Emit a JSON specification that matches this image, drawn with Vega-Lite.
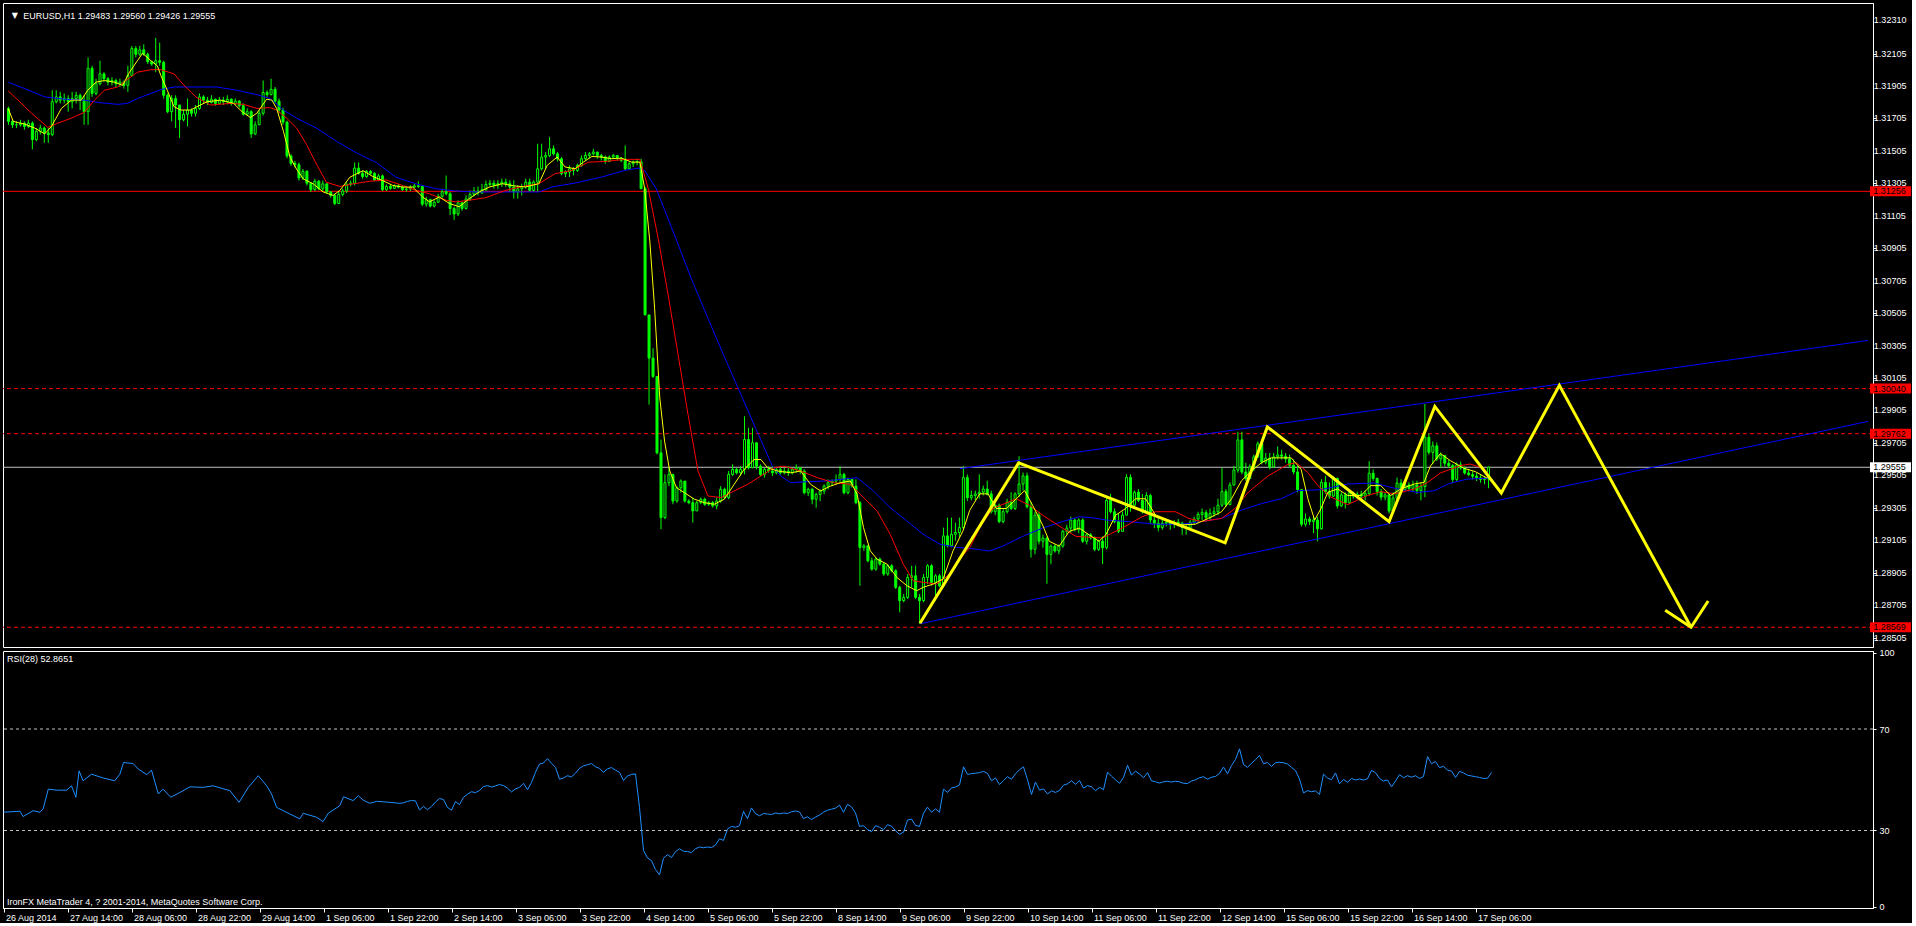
{
"$schema": "https://vega.github.io/schema/vega-lite/v6.json",
"background": "#000000",
"padding": {"left": 2, "top": 2, "right": 0, "bottom": 0},
"autosize": {"type": "pad"},
"spacing": 0,
"config": {
 "view": {"stroke": "#FFFFFF", "strokeWidth": 1},
 "font": "Liberation Sans",
 "axis": {"domainColor": "#FFFFFF", "tickColor": "#FFFFFF", "labelColor": "#FFFFFF", "labelFont": "Liberation Sans", "labelFontSize": 9, "grid": false, "labelOverlap": false, "labelBound": false, "labelFlush": false}
},
"datasets": {
 "one": [{}],
 "yticks": [{"v":1.28505},{"v":1.28705},{"v":1.28905},{"v":1.29105},{"v":1.29305},{"v":1.29505},{"v":1.29705},{"v":1.29905},{"v":1.30105},{"v":1.30305},{"v":1.30505},{"v":1.30705},{"v":1.30905},{"v":1.31105},{"v":1.31305},{"v":1.31505},{"v":1.31705},{"v":1.31905},{"v":1.32105},{"v":1.32310}],
 "candles": [
{"b":0,"o":1.31767,"h":1.31778,"l":1.31666,"c":1.31687},
{"b":1,"o":1.31687,"h":1.31697,"l":1.31646,"c":1.31666},
{"b":2,"o":1.31666,"h":1.31687,"l":1.31646,"c":1.31666},
{"b":3,"o":1.31666,"h":1.31697,"l":1.31656,"c":1.31676},
{"b":4,"o":1.31676,"h":1.31687,"l":1.31636,"c":1.31656},
{"b":5,"o":1.31656,"h":1.31697,"l":1.31646,"c":1.31676},
{"b":6,"o":1.31676,"h":1.31687,"l":1.31515,"c":1.31575},
{"b":7,"o":1.31575,"h":1.31646,"l":1.31565,"c":1.31626},
{"b":8,"o":1.31626,"h":1.31666,"l":1.31606,"c":1.31646},
{"b":9,"o":1.31646,"h":1.31656,"l":1.31555,"c":1.31616},
{"b":10,"o":1.31616,"h":1.31646,"l":1.31555,"c":1.31606},
{"b":11,"o":1.31606,"h":1.31879,"l":1.31596,"c":1.31808},
{"b":12,"o":1.31808,"h":1.31879,"l":1.31798,"c":1.31838},
{"b":13,"o":1.31838,"h":1.31869,"l":1.31798,"c":1.31818},
{"b":14,"o":1.31818,"h":1.31859,"l":1.31798,"c":1.31828},
{"b":15,"o":1.31828,"h":1.31848,"l":1.31747,"c":1.31808},
{"b":16,"o":1.31808,"h":1.31869,"l":1.31767,"c":1.31828},
{"b":17,"o":1.31828,"h":1.31869,"l":1.31798,"c":1.31848},
{"b":18,"o":1.31848,"h":1.31859,"l":1.31757,"c":1.31818},
{"b":19,"o":1.31818,"h":1.31848,"l":1.31666,"c":1.31747},
{"b":20,"o":1.31747,"h":1.32081,"l":1.31666,"c":1.32014},
{"b":21,"o":1.32014,"h":1.32030,"l":1.31838,"c":1.31859},
{"b":22,"o":1.31859,"h":1.31950,"l":1.31848,"c":1.31919},
{"b":23,"o":1.31919,"h":1.32061,"l":1.31909,"c":1.31980},
{"b":24,"o":1.31980,"h":1.31990,"l":1.31929,"c":1.31950},
{"b":25,"o":1.31950,"h":1.31960,"l":1.31909,"c":1.31929},
{"b":26,"o":1.31929,"h":1.31960,"l":1.31909,"c":1.31939},
{"b":27,"o":1.31939,"h":1.31950,"l":1.31899,"c":1.31919},
{"b":28,"o":1.31919,"h":1.31950,"l":1.31899,"c":1.31929},
{"b":29,"o":1.31929,"h":1.31939,"l":1.31889,"c":1.31909},
{"b":30,"o":1.31909,"h":1.32030,"l":1.31869,"c":1.31970},
{"b":31,"o":1.31970,"h":1.32152,"l":1.31960,"c":1.32136},
{"b":32,"o":1.32136,"h":1.32152,"l":1.32081,"c":1.32101},
{"b":33,"o":1.32101,"h":1.32152,"l":1.32091,"c":1.32128},
{"b":34,"o":1.32128,"h":1.32162,"l":1.32091,"c":1.32101},
{"b":35,"o":1.32101,"h":1.32111,"l":1.32041,"c":1.32055},
{"b":36,"o":1.32055,"h":1.32061,"l":1.32030,"c":1.32041},
{"b":37,"o":1.32041,"h":1.32202,"l":1.31990,"c":1.32061},
{"b":38,"o":1.32061,"h":1.32172,"l":1.32030,"c":1.32051},
{"b":39,"o":1.32051,"h":1.32061,"l":1.31828,"c":1.31848},
{"b":40,"o":1.31848,"h":1.31859,"l":1.31737,"c":1.31747},
{"b":41,"o":1.31747,"h":1.31848,"l":1.31687,"c":1.31828},
{"b":42,"o":1.31828,"h":1.31848,"l":1.31646,"c":1.31788},
{"b":43,"o":1.31788,"h":1.31788,"l":1.31585,"c":1.31697},
{"b":44,"o":1.31697,"h":1.31757,"l":1.31687,"c":1.31731},
{"b":45,"o":1.31731,"h":1.31828,"l":1.31656,"c":1.31757},
{"b":46,"o":1.31757,"h":1.31767,"l":1.31717,"c":1.31737},
{"b":47,"o":1.31737,"h":1.31788,"l":1.31717,"c":1.31767},
{"b":48,"o":1.31767,"h":1.31859,"l":1.31757,"c":1.31838},
{"b":49,"o":1.31838,"h":1.31848,"l":1.31798,"c":1.31818},
{"b":50,"o":1.31818,"h":1.31838,"l":1.31788,"c":1.31804},
{"b":51,"o":1.31804,"h":1.31848,"l":1.31798,"c":1.31824},
{"b":52,"o":1.31824,"h":1.31828,"l":1.31784,"c":1.31798},
{"b":53,"o":1.31798,"h":1.31838,"l":1.31792,"c":1.31818},
{"b":54,"o":1.31818,"h":1.31838,"l":1.31788,"c":1.31808},
{"b":55,"o":1.31808,"h":1.31848,"l":1.31792,"c":1.31824},
{"b":56,"o":1.31824,"h":1.31828,"l":1.31784,"c":1.31798},
{"b":57,"o":1.31798,"h":1.31828,"l":1.31788,"c":1.31812},
{"b":58,"o":1.31812,"h":1.31818,"l":1.31772,"c":1.31784},
{"b":59,"o":1.31784,"h":1.31798,"l":1.31723,"c":1.31731},
{"b":60,"o":1.31731,"h":1.31767,"l":1.31723,"c":1.31747},
{"b":61,"o":1.31747,"h":1.31757,"l":1.31585,"c":1.31610},
{"b":62,"o":1.31610,"h":1.31687,"l":1.31602,"c":1.31666},
{"b":63,"o":1.31666,"h":1.31757,"l":1.31666,"c":1.31737},
{"b":64,"o":1.31737,"h":1.31939,"l":1.31723,"c":1.31865},
{"b":65,"o":1.31865,"h":1.31879,"l":1.31838,"c":1.31852},
{"b":66,"o":1.31852,"h":1.31950,"l":1.31848,"c":1.31885},
{"b":67,"o":1.31885,"h":1.31899,"l":1.31798,"c":1.31812},
{"b":68,"o":1.31812,"h":1.31828,"l":1.31737,"c":1.31757},
{"b":69,"o":1.31757,"h":1.31772,"l":1.31666,"c":1.31683},
{"b":70,"o":1.31683,"h":1.31691,"l":1.31460,"c":1.31474},
{"b":71,"o":1.31474,"h":1.31484,"l":1.31413,"c":1.31428},
{"b":72,"o":1.31428,"h":1.31444,"l":1.31403,"c":1.31420},
{"b":73,"o":1.31420,"h":1.31434,"l":1.31322,"c":1.31339},
{"b":74,"o":1.31339,"h":1.31393,"l":1.31326,"c":1.31379},
{"b":75,"o":1.31379,"h":1.31387,"l":1.31292,"c":1.31306},
{"b":76,"o":1.31306,"h":1.31312,"l":1.31252,"c":1.31266},
{"b":77,"o":1.31266,"h":1.31333,"l":1.31258,"c":1.31318},
{"b":78,"o":1.31318,"h":1.31326,"l":1.31262,"c":1.31272},
{"b":79,"o":1.31272,"h":1.31322,"l":1.31258,"c":1.31302},
{"b":80,"o":1.31302,"h":1.31306,"l":1.31241,"c":1.31252},
{"b":81,"o":1.31252,"h":1.31258,"l":1.31217,"c":1.31231},
{"b":82,"o":1.31231,"h":1.31241,"l":1.31171,"c":1.31181},
{"b":83,"o":1.31181,"h":1.31252,"l":1.31177,"c":1.31237},
{"b":84,"o":1.31237,"h":1.31272,"l":1.31225,"c":1.31258},
{"b":85,"o":1.31258,"h":1.31312,"l":1.31246,"c":1.31298},
{"b":86,"o":1.31298,"h":1.31322,"l":1.31286,"c":1.31306},
{"b":87,"o":1.31306,"h":1.31434,"l":1.31292,"c":1.31399},
{"b":88,"o":1.31399,"h":1.31434,"l":1.31359,"c":1.31367},
{"b":89,"o":1.31367,"h":1.31383,"l":1.31333,"c":1.31347},
{"b":90,"o":1.31347,"h":1.31387,"l":1.31339,"c":1.31379},
{"b":91,"o":1.31379,"h":1.31387,"l":1.31359,"c":1.31367},
{"b":92,"o":1.31367,"h":1.31373,"l":1.31318,"c":1.31326},
{"b":93,"o":1.31326,"h":1.31363,"l":1.31318,"c":1.31351},
{"b":94,"o":1.31351,"h":1.31359,"l":1.31258,"c":1.31266},
{"b":95,"o":1.31266,"h":1.31298,"l":1.31258,"c":1.31286},
{"b":96,"o":1.31286,"h":1.31298,"l":1.31266,"c":1.31274},
{"b":97,"o":1.31274,"h":1.31298,"l":1.31270,"c":1.31290},
{"b":98,"o":1.31290,"h":1.31302,"l":1.31274,"c":1.31282},
{"b":99,"o":1.31282,"h":1.31290,"l":1.31258,"c":1.31266},
{"b":100,"o":1.31266,"h":1.31282,"l":1.31254,"c":1.31270},
{"b":101,"o":1.31270,"h":1.31294,"l":1.31258,"c":1.31282},
{"b":102,"o":1.31282,"h":1.31302,"l":1.31278,"c":1.31290},
{"b":103,"o":1.31290,"h":1.31318,"l":1.31278,"c":1.31286},
{"b":104,"o":1.31286,"h":1.31294,"l":1.31165,"c":1.31177},
{"b":105,"o":1.31177,"h":1.31221,"l":1.31161,"c":1.31205},
{"b":106,"o":1.31205,"h":1.31211,"l":1.31157,"c":1.31165},
{"b":107,"o":1.31165,"h":1.31201,"l":1.31157,"c":1.31189},
{"b":108,"o":1.31189,"h":1.31241,"l":1.31185,"c":1.31225},
{"b":109,"o":1.31225,"h":1.31272,"l":1.31217,"c":1.31254},
{"b":110,"o":1.31254,"h":1.31353,"l":1.31231,"c":1.31241},
{"b":111,"o":1.31241,"h":1.31252,"l":1.31110,"c":1.31150},
{"b":112,"o":1.31150,"h":1.31161,"l":1.31080,"c":1.31116},
{"b":113,"o":1.31116,"h":1.31201,"l":1.31104,"c":1.31185},
{"b":114,"o":1.31185,"h":1.31191,"l":1.31136,"c":1.31150},
{"b":115,"o":1.31150,"h":1.31231,"l":1.31144,"c":1.31209},
{"b":116,"o":1.31209,"h":1.31262,"l":1.31197,"c":1.31237},
{"b":117,"o":1.31237,"h":1.31282,"l":1.31225,"c":1.31258},
{"b":118,"o":1.31258,"h":1.31286,"l":1.31231,"c":1.31246},
{"b":119,"o":1.31246,"h":1.31302,"l":1.31241,"c":1.31266},
{"b":120,"o":1.31266,"h":1.31322,"l":1.31258,"c":1.31298},
{"b":121,"o":1.31298,"h":1.31326,"l":1.31286,"c":1.31306},
{"b":122,"o":1.31306,"h":1.31324,"l":1.31272,"c":1.31293},
{"b":123,"o":1.31293,"h":1.31324,"l":1.31272,"c":1.31303},
{"b":124,"o":1.31303,"h":1.31334,"l":1.31283,"c":1.31313},
{"b":125,"o":1.31313,"h":1.31334,"l":1.31283,"c":1.31303},
{"b":126,"o":1.31303,"h":1.31324,"l":1.31252,"c":1.31283},
{"b":127,"o":1.31283,"h":1.31324,"l":1.31211,"c":1.31252},
{"b":128,"o":1.31252,"h":1.31293,"l":1.31211,"c":1.31272},
{"b":129,"o":1.31272,"h":1.31303,"l":1.31231,"c":1.31283},
{"b":130,"o":1.31283,"h":1.31334,"l":1.31272,"c":1.31313},
{"b":131,"o":1.31313,"h":1.31334,"l":1.31252,"c":1.31262},
{"b":132,"o":1.31262,"h":1.31324,"l":1.31252,"c":1.31313},
{"b":133,"o":1.31313,"h":1.31549,"l":1.31252,"c":1.31395},
{"b":134,"o":1.31395,"h":1.31549,"l":1.31385,"c":1.31467},
{"b":135,"o":1.31467,"h":1.31498,"l":1.31395,"c":1.31477},
{"b":136,"o":1.31477,"h":1.31590,"l":1.31467,"c":1.31518},
{"b":137,"o":1.31518,"h":1.31539,"l":1.31477,"c":1.31487},
{"b":138,"o":1.31487,"h":1.31498,"l":1.31440,"c":1.31457},
{"b":139,"o":1.31457,"h":1.31467,"l":1.31354,"c":1.31365},
{"b":140,"o":1.31365,"h":1.31385,"l":1.31344,"c":1.31375},
{"b":141,"o":1.31375,"h":1.31416,"l":1.31344,"c":1.31395},
{"b":142,"o":1.31395,"h":1.31406,"l":1.31354,"c":1.31385},
{"b":143,"o":1.31385,"h":1.31426,"l":1.31375,"c":1.31416},
{"b":144,"o":1.31416,"h":1.31477,"l":1.31406,"c":1.31457},
{"b":145,"o":1.31457,"h":1.31498,"l":1.31446,"c":1.31477},
{"b":146,"o":1.31477,"h":1.31498,"l":1.31461,"c":1.31487},
{"b":147,"o":1.31487,"h":1.31518,"l":1.31477,"c":1.31498},
{"b":148,"o":1.31498,"h":1.31498,"l":1.31457,"c":1.31477},
{"b":149,"o":1.31477,"h":1.31487,"l":1.31446,"c":1.31467},
{"b":150,"o":1.31467,"h":1.31477,"l":1.31426,"c":1.31440},
{"b":151,"o":1.31440,"h":1.31477,"l":1.31436,"c":1.31467},
{"b":152,"o":1.31467,"h":1.31487,"l":1.31457,"c":1.31477},
{"b":153,"o":1.31477,"h":1.31477,"l":1.31446,"c":1.31461},
{"b":154,"o":1.31461,"h":1.31467,"l":1.31436,"c":1.31446},
{"b":155,"o":1.31446,"h":1.31539,"l":1.31385,"c":1.31395},
{"b":156,"o":1.31395,"h":1.31436,"l":1.31395,"c":1.31426},
{"b":157,"o":1.31426,"h":1.31446,"l":1.31406,"c":1.31436},
{"b":158,"o":1.31436,"h":1.31457,"l":1.31416,"c":1.31440},
{"b":159,"o":1.31440,"h":1.31457,"l":1.31272,"c":1.31272},
{"b":160,"o":1.31272,"h":1.31283,"l":1.30494,"c":1.30494},
{"b":161,"o":1.30494,"h":1.30494,"l":1.29941,"c":1.30228},
{"b":162,"o":1.30228,"h":1.30289,"l":1.30105,"c":1.30115},
{"b":163,"o":1.30115,"h":1.30115,"l":1.29634,"c":1.29644},
{"b":164,"o":1.29644,"h":1.29726,"l":1.29173,"c":1.29245},
{"b":165,"o":1.29245,"h":1.29511,"l":1.29235,"c":1.29460},
{"b":166,"o":1.29460,"h":1.29552,"l":1.29439,"c":1.29511},
{"b":167,"o":1.29511,"h":1.29511,"l":1.29327,"c":1.29347},
{"b":168,"o":1.29347,"h":1.29439,"l":1.29337,"c":1.29429},
{"b":169,"o":1.29429,"h":1.29480,"l":1.29398,"c":1.29470},
{"b":170,"o":1.29470,"h":1.29470,"l":1.29337,"c":1.29347},
{"b":171,"o":1.29347,"h":1.29358,"l":1.29327,"c":1.29337},
{"b":172,"o":1.29337,"h":1.29368,"l":1.29214,"c":1.29286},
{"b":173,"o":1.29286,"h":1.29347,"l":1.29286,"c":1.29337},
{"b":174,"o":1.29337,"h":1.29368,"l":1.29327,"c":1.29358},
{"b":175,"o":1.29358,"h":1.29368,"l":1.29317,"c":1.29327},
{"b":176,"o":1.29327,"h":1.29347,"l":1.29317,"c":1.29337},
{"b":177,"o":1.29337,"h":1.29347,"l":1.29306,"c":1.29317},
{"b":178,"o":1.29317,"h":1.29368,"l":1.29296,"c":1.29347},
{"b":179,"o":1.29347,"h":1.29439,"l":1.29337,"c":1.29419},
{"b":180,"o":1.29419,"h":1.29429,"l":1.29358,"c":1.29368},
{"b":181,"o":1.29368,"h":1.29532,"l":1.29358,"c":1.29511},
{"b":182,"o":1.29511,"h":1.29573,"l":1.29501,"c":1.29542},
{"b":183,"o":1.29542,"h":1.29552,"l":1.29511,"c":1.29521},
{"b":184,"o":1.29521,"h":1.29562,"l":1.29501,"c":1.29542},
{"b":185,"o":1.29542,"h":1.29870,"l":1.29511,"c":1.29726},
{"b":186,"o":1.29726,"h":1.29798,"l":1.29542,"c":1.29552},
{"b":187,"o":1.29552,"h":1.29798,"l":1.29552,"c":1.29706},
{"b":188,"o":1.29706,"h":1.29706,"l":1.29542,"c":1.29562},
{"b":189,"o":1.29562,"h":1.29573,"l":1.29501,"c":1.29511},
{"b":190,"o":1.29511,"h":1.29552,"l":1.29491,"c":1.29542},
{"b":191,"o":1.29542,"h":1.29562,"l":1.29521,"c":1.29532},
{"b":192,"o":1.29532,"h":1.29562,"l":1.29501,"c":1.29521},
{"b":193,"o":1.29521,"h":1.29552,"l":1.29511,"c":1.29542},
{"b":194,"o":1.29542,"h":1.29562,"l":1.29511,"c":1.29521},
{"b":195,"o":1.29521,"h":1.29552,"l":1.29511,"c":1.29532},
{"b":196,"o":1.29532,"h":1.29562,"l":1.29501,"c":1.29521},
{"b":197,"o":1.29521,"h":1.29552,"l":1.29511,"c":1.29542},
{"b":198,"o":1.29542,"h":1.29573,"l":1.29521,"c":1.29552},
{"b":199,"o":1.29552,"h":1.29552,"l":1.29511,"c":1.29532},
{"b":200,"o":1.29532,"h":1.29542,"l":1.29388,"c":1.29398},
{"b":201,"o":1.29398,"h":1.29429,"l":1.29378,"c":1.29419},
{"b":202,"o":1.29419,"h":1.29429,"l":1.29327,"c":1.29358},
{"b":203,"o":1.29358,"h":1.29398,"l":1.29306,"c":1.29388},
{"b":204,"o":1.29388,"h":1.29419,"l":1.29347,"c":1.29409},
{"b":205,"o":1.29409,"h":1.29450,"l":1.29388,"c":1.29439},
{"b":206,"o":1.29439,"h":1.29480,"l":1.29419,"c":1.29460},
{"b":207,"o":1.29460,"h":1.29480,"l":1.29439,"c":1.29470},
{"b":208,"o":1.29470,"h":1.29511,"l":1.29450,"c":1.29480},
{"b":209,"o":1.29480,"h":1.29562,"l":1.29460,"c":1.29511},
{"b":210,"o":1.29511,"h":1.29521,"l":1.29388,"c":1.29398},
{"b":211,"o":1.29398,"h":1.29491,"l":1.29388,"c":1.29480},
{"b":212,"o":1.29480,"h":1.29480,"l":1.29429,"c":1.29439},
{"b":213,"o":1.29439,"h":1.29480,"l":1.29327,"c":1.29337},
{"b":214,"o":1.29337,"h":1.29347,"l":1.28825,"c":1.29061},
{"b":215,"o":1.29061,"h":1.29081,"l":1.29040,"c":1.29071},
{"b":216,"o":1.29071,"h":1.29071,"l":1.28969,"c":1.28979},
{"b":217,"o":1.28979,"h":1.28999,"l":1.28917,"c":1.28927},
{"b":218,"o":1.28927,"h":1.28999,"l":1.28917,"c":1.28989},
{"b":219,"o":1.28989,"h":1.28999,"l":1.28948,"c":1.28958},
{"b":220,"o":1.28958,"h":1.28969,"l":1.28886,"c":1.28897},
{"b":221,"o":1.28897,"h":1.28958,"l":1.28886,"c":1.28948},
{"b":222,"o":1.28948,"h":1.28958,"l":1.28907,"c":1.28917},
{"b":223,"o":1.28917,"h":1.28927,"l":1.28805,"c":1.28815},
{"b":224,"o":1.28815,"h":1.28825,"l":1.28661,"c":1.28733},
{"b":225,"o":1.28733,"h":1.28774,"l":1.28723,"c":1.28753},
{"b":226,"o":1.28753,"h":1.28897,"l":1.28743,"c":1.28876},
{"b":227,"o":1.28876,"h":1.28948,"l":1.28815,"c":1.28886},
{"b":228,"o":1.28886,"h":1.28948,"l":1.28743,"c":1.28753},
{"b":229,"o":1.28753,"h":1.28774,"l":1.28590,"c":1.28733},
{"b":230,"o":1.28733,"h":1.28897,"l":1.28723,"c":1.28876},
{"b":231,"o":1.28876,"h":1.28958,"l":1.28835,"c":1.28948},
{"b":232,"o":1.28948,"h":1.28958,"l":1.28825,"c":1.28846},
{"b":233,"o":1.28846,"h":1.28897,"l":1.28733,"c":1.28886},
{"b":234,"o":1.28886,"h":1.28897,"l":1.28815,"c":1.28825},
{"b":235,"o":1.28825,"h":1.29183,"l":1.28815,"c":1.29132},
{"b":236,"o":1.29132,"h":1.29245,"l":1.29061,"c":1.29071},
{"b":237,"o":1.29071,"h":1.29245,"l":1.29061,"c":1.29142},
{"b":238,"o":1.29142,"h":1.29214,"l":1.29102,"c":1.29153},
{"b":239,"o":1.29153,"h":1.29245,"l":1.29122,"c":1.29183},
{"b":240,"o":1.29183,"h":1.29562,"l":1.29173,"c":1.29491},
{"b":241,"o":1.29491,"h":1.29511,"l":1.29347,"c":1.29368},
{"b":242,"o":1.29368,"h":1.29411,"l":1.29351,"c":1.29381},
{"b":243,"o":1.29381,"h":1.29411,"l":1.29351,"c":1.29391},
{"b":244,"o":1.29391,"h":1.29512,"l":1.29361,"c":1.29401},
{"b":245,"o":1.29401,"h":1.29442,"l":1.29381,"c":1.29421},
{"b":246,"o":1.29421,"h":1.29472,"l":1.29381,"c":1.29391},
{"b":247,"o":1.29391,"h":1.29411,"l":1.29270,"c":1.29281},
{"b":248,"o":1.29281,"h":1.29331,"l":1.29260,"c":1.29321},
{"b":249,"o":1.29321,"h":1.29331,"l":1.29210,"c":1.29220},
{"b":250,"o":1.29220,"h":1.29301,"l":1.29210,"c":1.29281},
{"b":251,"o":1.29281,"h":1.29361,"l":1.29270,"c":1.29341},
{"b":252,"o":1.29341,"h":1.29401,"l":1.29291,"c":1.29301},
{"b":253,"o":1.29301,"h":1.29401,"l":1.29291,"c":1.29391},
{"b":254,"o":1.29391,"h":1.29623,"l":1.29371,"c":1.29452},
{"b":255,"o":1.29452,"h":1.29522,"l":1.29411,"c":1.29502},
{"b":256,"o":1.29502,"h":1.29522,"l":1.29301,"c":1.29311},
{"b":257,"o":1.29311,"h":1.29341,"l":1.28998,"c":1.29049},
{"b":258,"o":1.29049,"h":1.29281,"l":1.29018,"c":1.29260},
{"b":259,"o":1.29260,"h":1.29281,"l":1.29079,"c":1.29099},
{"b":260,"o":1.29099,"h":1.29139,"l":1.29059,"c":1.29119},
{"b":261,"o":1.29119,"h":1.29129,"l":1.28837,"c":1.29018},
{"b":262,"o":1.29018,"h":1.29079,"l":1.28958,"c":1.29069},
{"b":263,"o":1.29069,"h":1.29079,"l":1.29029,"c":1.29039},
{"b":264,"o":1.29039,"h":1.29079,"l":1.29018,"c":1.29069},
{"b":265,"o":1.29069,"h":1.29170,"l":1.29059,"c":1.29160},
{"b":266,"o":1.29160,"h":1.29200,"l":1.29139,"c":1.29180},
{"b":267,"o":1.29180,"h":1.29250,"l":1.29149,"c":1.29230},
{"b":268,"o":1.29230,"h":1.29240,"l":1.29160,"c":1.29170},
{"b":269,"o":1.29170,"h":1.29240,"l":1.29149,"c":1.29230},
{"b":270,"o":1.29230,"h":1.29240,"l":1.29089,"c":1.29099},
{"b":271,"o":1.29099,"h":1.29149,"l":1.29079,"c":1.29139},
{"b":272,"o":1.29139,"h":1.29149,"l":1.29109,"c":1.29119},
{"b":273,"o":1.29119,"h":1.29129,"l":1.29039,"c":1.29049},
{"b":274,"o":1.29049,"h":1.29109,"l":1.29039,"c":1.29099},
{"b":275,"o":1.29099,"h":1.29129,"l":1.28958,"c":1.29059},
{"b":276,"o":1.29059,"h":1.29371,"l":1.29049,"c":1.29351},
{"b":277,"o":1.29351,"h":1.29391,"l":1.29270,"c":1.29281},
{"b":278,"o":1.29281,"h":1.29301,"l":1.29210,"c":1.29220},
{"b":279,"o":1.29220,"h":1.29270,"l":1.29149,"c":1.29160},
{"b":280,"o":1.29160,"h":1.29281,"l":1.29160,"c":1.29260},
{"b":281,"o":1.29260,"h":1.29512,"l":1.29260,"c":1.29492},
{"b":282,"o":1.29492,"h":1.29512,"l":1.29281,"c":1.29321},
{"b":283,"o":1.29321,"h":1.29411,"l":1.29311,"c":1.29401},
{"b":284,"o":1.29401,"h":1.29421,"l":1.29341,"c":1.29351},
{"b":285,"o":1.29351,"h":1.29391,"l":1.29270,"c":1.29281},
{"b":286,"o":1.29281,"h":1.29401,"l":1.29270,"c":1.29381},
{"b":287,"o":1.29381,"h":1.29391,"l":1.29210,"c":1.29230},
{"b":288,"o":1.29230,"h":1.29250,"l":1.29180,"c":1.29210},
{"b":289,"o":1.29210,"h":1.29240,"l":1.29160,"c":1.29184},
{"b":290,"o":1.29184,"h":1.29230,"l":1.29170,"c":1.29210},
{"b":291,"o":1.29210,"h":1.29230,"l":1.29190,"c":1.29216},
{"b":292,"o":1.29216,"h":1.29230,"l":1.29170,"c":1.29204},
{"b":293,"o":1.29204,"h":1.29230,"l":1.29180,"c":1.29216},
{"b":294,"o":1.29216,"h":1.29236,"l":1.29190,"c":1.29210},
{"b":295,"o":1.29210,"h":1.29220,"l":1.29139,"c":1.29184},
{"b":296,"o":1.29184,"h":1.29200,"l":1.29139,"c":1.29180},
{"b":297,"o":1.29180,"h":1.29230,"l":1.29170,"c":1.29216},
{"b":298,"o":1.29216,"h":1.29250,"l":1.29200,"c":1.29236},
{"b":299,"o":1.29236,"h":1.29281,"l":1.29210,"c":1.29264},
{"b":300,"o":1.29264,"h":1.29301,"l":1.29230,"c":1.29276},
{"b":301,"o":1.29276,"h":1.29291,"l":1.29220,"c":1.29244},
{"b":302,"o":1.29244,"h":1.29301,"l":1.29230,"c":1.29270},
{"b":303,"o":1.29270,"h":1.29311,"l":1.29250,"c":1.29281},
{"b":304,"o":1.29281,"h":1.29361,"l":1.29260,"c":1.29321},
{"b":305,"o":1.29321,"h":1.29552,"l":1.29311,"c":1.29405},
{"b":306,"o":1.29405,"h":1.29421,"l":1.29311,"c":1.29325},
{"b":307,"o":1.29325,"h":1.29462,"l":1.29321,"c":1.29446},
{"b":308,"o":1.29446,"h":1.29563,"l":1.29442,"c":1.29538},
{"b":309,"o":1.29538,"h":1.29774,"l":1.29522,"c":1.29724},
{"b":310,"o":1.29724,"h":1.29774,"l":1.29512,"c":1.29526},
{"b":311,"o":1.29526,"h":1.29583,"l":1.29472,"c":1.29486},
{"b":312,"o":1.29486,"h":1.29573,"l":1.29482,"c":1.29558},
{"b":313,"o":1.29558,"h":1.29633,"l":1.29532,"c":1.29619},
{"b":314,"o":1.29619,"h":1.29714,"l":1.29613,"c":1.29700},
{"b":315,"o":1.29700,"h":1.29704,"l":1.29573,"c":1.29587},
{"b":316,"o":1.29587,"h":1.29643,"l":1.29573,"c":1.29611},
{"b":317,"o":1.29611,"h":1.29643,"l":1.29542,"c":1.29558},
{"b":318,"o":1.29558,"h":1.29643,"l":1.29552,"c":1.29619},
{"b":319,"o":1.29619,"h":1.29684,"l":1.29603,"c":1.29631},
{"b":320,"o":1.29631,"h":1.29663,"l":1.29603,"c":1.29623},
{"b":321,"o":1.29623,"h":1.29643,"l":1.29583,"c":1.29607},
{"b":322,"o":1.29607,"h":1.29633,"l":1.29552,"c":1.29567},
{"b":323,"o":1.29567,"h":1.29603,"l":1.29512,"c":1.29526},
{"b":324,"o":1.29526,"h":1.29563,"l":1.29401,"c":1.29417},
{"b":325,"o":1.29417,"h":1.29421,"l":1.29190,"c":1.29204},
{"b":326,"o":1.29204,"h":1.29270,"l":1.29190,"c":1.29236},
{"b":327,"o":1.29236,"h":1.29250,"l":1.29200,"c":1.29220},
{"b":328,"o":1.29220,"h":1.29250,"l":1.29149,"c":1.29230},
{"b":329,"o":1.29230,"h":1.29250,"l":1.29099,"c":1.29176},
{"b":330,"o":1.29176,"h":1.29482,"l":1.29170,"c":1.29462},
{"b":331,"o":1.29462,"h":1.29502,"l":1.29391,"c":1.29405},
{"b":332,"o":1.29405,"h":1.29462,"l":1.29361,"c":1.29377},
{"b":333,"o":1.29377,"h":1.29502,"l":1.29371,"c":1.29486},
{"b":334,"o":1.29486,"h":1.29492,"l":1.29301,"c":1.29317},
{"b":335,"o":1.29317,"h":1.29401,"l":1.29311,"c":1.29385},
{"b":336,"o":1.29385,"h":1.29401,"l":1.29301,"c":1.29337},
{"b":337,"o":1.29337,"h":1.29411,"l":1.29331,"c":1.29397},
{"b":338,"o":1.29397,"h":1.29405,"l":1.29361,"c":1.29377},
{"b":339,"o":1.29377,"h":1.29405,"l":1.29361,"c":1.29389},
{"b":340,"o":1.29389,"h":1.29411,"l":1.29361,"c":1.29377},
{"b":341,"o":1.29377,"h":1.29411,"l":1.29351,"c":1.29393},
{"b":342,"o":1.29393,"h":1.29593,"l":1.29381,"c":1.29518},
{"b":343,"o":1.29518,"h":1.29542,"l":1.29472,"c":1.29486},
{"b":344,"o":1.29486,"h":1.29492,"l":1.29381,"c":1.29405},
{"b":345,"o":1.29405,"h":1.29421,"l":1.29351,"c":1.29371},
{"b":346,"o":1.29371,"h":1.29401,"l":1.29351,"c":1.29385},
{"b":347,"o":1.29385,"h":1.29391,"l":1.29270,"c":1.29285},
{"b":348,"o":1.29285,"h":1.29401,"l":1.29270,"c":1.29365},
{"b":349,"o":1.29365,"h":1.29492,"l":1.29351,"c":1.29458},
{"b":350,"o":1.29458,"h":1.29482,"l":1.29401,"c":1.29417},
{"b":351,"o":1.29417,"h":1.29462,"l":1.29411,"c":1.29446},
{"b":352,"o":1.29446,"h":1.29462,"l":1.29411,"c":1.29425},
{"b":353,"o":1.29425,"h":1.29472,"l":1.29401,"c":1.29446},
{"b":354,"o":1.29446,"h":1.29472,"l":1.29391,"c":1.29411},
{"b":355,"o":1.29411,"h":1.29462,"l":1.29351,"c":1.29437},
{"b":356,"o":1.29437,"h":1.29945,"l":1.29371,"c":1.29740},
{"b":357,"o":1.29740,"h":1.29764,"l":1.29633,"c":1.29647},
{"b":358,"o":1.29647,"h":1.29714,"l":1.29573,"c":1.29687},
{"b":359,"o":1.29687,"h":1.29708,"l":1.29593,"c":1.29607},
{"b":360,"o":1.29607,"h":1.29647,"l":1.29552,"c":1.29627},
{"b":361,"o":1.29627,"h":1.29630,"l":1.29560,"c":1.29580},
{"b":362,"o":1.29580,"h":1.29600,"l":1.29550,"c":1.29565},
{"b":363,"o":1.29565,"h":1.29575,"l":1.29460,"c":1.29480},
{"b":364,"o":1.29480,"h":1.29585,"l":1.29470,"c":1.29570},
{"b":365,"o":1.29570,"h":1.29590,"l":1.29540,"c":1.29550},
{"b":366,"o":1.29550,"h":1.29560,"l":1.29510,"c":1.29520},
{"b":367,"o":1.29520,"h":1.29545,"l":1.29500,"c":1.29510},
{"b":368,"o":1.29510,"h":1.29530,"l":1.29480,"c":1.29500},
{"b":369,"o":1.29500,"h":1.29520,"l":1.29470,"c":1.29490},
{"b":370,"o":1.29490,"h":1.29510,"l":1.29460,"c":1.29480},
{"b":371,"o":1.29480,"h":1.29500,"l":1.29450,"c":1.29483},
{"b":372,"o":1.29483,"h":1.29560,"l":1.29426,"c":1.29555}
 ],
 "ma": [
{"line":"slow","b":-0.1,"p":1.31929},{"line":"slow","b":4.1,"p":1.31889},{"line":"slow","b":9.1,"p":1.31838},{"line":"slow","b":14.1,"p":1.31824},{"line":"slow","b":19.1,"p":1.31818},{"line":"slow","b":22.4,"p":1.31804},{"line":"slow","b":27.4,"p":1.31792},{"line":"slow","b":29.9,"p":1.31798},{"line":"slow","b":32.4,"p":1.31828},{"line":"slow","b":35.8,"p":1.31859},{"line":"slow","b":38.3,"p":1.31883},{"line":"slow","b":41.6,"p":1.31899},{"line":"slow","b":47.4,"p":1.31899},{"line":"slow","b":52.4,"p":1.31899},{"line":"slow","b":57.4,"p":1.31879},{"line":"slow","b":62.4,"p":1.31852},{"line":"slow","b":65.8,"p":1.31828},{"line":"slow","b":69.1,"p":1.31757},{"line":"slow","b":72.4,"p":1.31707},{"line":"slow","b":77.4,"p":1.31646},{"line":"slow","b":82.4,"p":1.31565},{"line":"slow","b":87.4,"p":1.31494},{"line":"slow","b":92.4,"p":1.31434},{"line":"slow","b":97.4,"p":1.31343},{"line":"slow","b":102.4,"p":1.31302},{"line":"slow","b":107.4,"p":1.31272},{"line":"slow","b":112.4,"p":1.31258},{"line":"slow","b":117.4,"p":1.31252},{"line":"slow","b":124.1,"p":1.31252},{"line":"slow","b":133.3,"p":1.31252},{"line":"slow","b":136.6,"p":1.31283},{"line":"slow","b":142.4,"p":1.31307},{"line":"slow","b":149.1,"p":1.31344},{"line":"slow","b":154.9,"p":1.31385},{"line":"slow","b":158.3,"p":1.31399},{"line":"slow","b":159.9,"p":1.31385},{"line":"slow","b":162.8,"p":1.31272},{"line":"slow","b":167.4,"p":1.30986},{"line":"slow","b":171.6,"p":1.30719},{"line":"slow","b":175.8,"p":1.30474},{"line":"slow","b":179.9,"p":1.30238},{"line":"slow","b":184.1,"p":1.30003},{"line":"slow","b":188.3,"p":1.29767},{"line":"slow","b":192.0,"p":1.29562},{"line":"slow","b":194.1,"p":1.29501},{"line":"slow","b":196.6,"p":1.29460},{"line":"slow","b":200.8,"p":1.29466},{"line":"slow","b":204.9,"p":1.29470},{"line":"slow","b":209.1,"p":1.29480},{"line":"slow","b":213.3,"p":1.29491},{"line":"slow","b":217.4,"p":1.29409},{"line":"slow","b":221.6,"p":1.29306},{"line":"slow","b":225.8,"p":1.29224},{"line":"slow","b":229.9,"p":1.29142},{"line":"slow","b":234.1,"p":1.29081},{"line":"slow","b":238.3,"p":1.29061},{"line":"slow","b":241.6,"p":1.29055},{"line":"slow","b":246.6,"p":1.29039},{"line":"slow","b":249.9,"p":1.29069},{"line":"slow","b":254.9,"p":1.29129},{"line":"slow","b":259.9,"p":1.29180},{"line":"slow","b":264.9,"p":1.29220},{"line":"slow","b":269.1,"p":1.29250},{"line":"slow","b":272.4,"p":1.29244},{"line":"slow","b":275.8,"p":1.29230},{"line":"slow","b":281.6,"p":1.29220},{"line":"slow","b":288.3,"p":1.29204},{"line":"slow","b":294.9,"p":1.29204},{"line":"slow","b":299.9,"p":1.29220},{"line":"slow","b":304.9,"p":1.29240},{"line":"slow","b":309.9,"p":1.29291},{"line":"slow","b":314.9,"p":1.29331},{"line":"slow","b":319.9,"p":1.29361},{"line":"slow","b":324.1,"p":1.29411},{"line":"slow","b":329.9,"p":1.29417},{"line":"slow","b":336.6,"p":1.29452},{"line":"slow","b":343.3,"p":1.29458},{"line":"slow","b":348.3,"p":1.29426},{"line":"slow","b":354.1,"p":1.29400},{"line":"slow","b":358.3,"p":1.29410},{"line":"slow","b":362,"p":1.29454},{"line":"slow","b":366.6,"p":1.29482},{"line":"slow","b":371.9,"p":1.29488},
{"line":"mid","b":-0.1,"p":1.31875},{"line":"mid","b":2.4,"p":1.31818},{"line":"mid","b":5.8,"p":1.31737},{"line":"mid","b":9.9,"p":1.31650},{"line":"mid","b":12.4,"p":1.31676},{"line":"mid","b":15.8,"p":1.31707},{"line":"mid","b":19.1,"p":1.31743},{"line":"mid","b":21.6,"p":1.31818},{"line":"mid","b":24.1,"p":1.31879},{"line":"mid","b":27.4,"p":1.31899},{"line":"mid","b":29.5,"p":1.31939},{"line":"mid","b":32.4,"p":1.31990},{"line":"mid","b":35.8,"p":1.32006},{"line":"mid","b":38.3,"p":1.32006},{"line":"mid","b":41.6,"p":1.31980},{"line":"mid","b":44.5,"p":1.31899},{"line":"mid","b":47.4,"p":1.31832},{"line":"mid","b":50.8,"p":1.31788},{"line":"mid","b":55.8,"p":1.31798},{"line":"mid","b":59.1,"p":1.31792},{"line":"mid","b":62.4,"p":1.31767},{"line":"mid","b":65.8,"p":1.31772},{"line":"mid","b":67.4,"p":1.31757},{"line":"mid","b":69.9,"p":1.31707},{"line":"mid","b":72.4,"p":1.31646},{"line":"mid","b":74.9,"p":1.31545},{"line":"mid","b":77.4,"p":1.31424},{"line":"mid","b":79.9,"p":1.31312},{"line":"mid","b":83.3,"p":1.31286},{"line":"mid","b":86.6,"p":1.31302},{"line":"mid","b":90.8,"p":1.31318},{"line":"mid","b":94.9,"p":1.31326},{"line":"mid","b":99.1,"p":1.31292},{"line":"mid","b":102.4,"p":1.31262},{"line":"mid","b":105.8,"p":1.31241},{"line":"mid","b":110,"p":1.31201},{"line":"mid","b":112.4,"p":1.31191},{"line":"mid","b":115.8,"p":1.31201},{"line":"mid","b":120,"p":1.31217},{"line":"mid","b":124.9,"p":1.31262},{"line":"mid","b":129.9,"p":1.31289},{"line":"mid","b":133.3,"p":1.31303},{"line":"mid","b":137.4,"p":1.31365},{"line":"mid","b":141.6,"p":1.31385},{"line":"mid","b":145.8,"p":1.31436},{"line":"mid","b":149.9,"p":1.31440},{"line":"mid","b":154.9,"p":1.31453},{"line":"mid","b":158.7,"p":1.31453},{"line":"mid","b":160.8,"p":1.31272},{"line":"mid","b":163.3,"p":1.30965},{"line":"mid","b":165.8,"p":1.30617},{"line":"mid","b":168.3,"p":1.30248},{"line":"mid","b":170.8,"p":1.29880},{"line":"mid","b":173.3,"p":1.29532},{"line":"mid","b":175.8,"p":1.29378},{"line":"mid","b":179.1,"p":1.29368},{"line":"mid","b":182.4,"p":1.29409},{"line":"mid","b":185.8,"p":1.29450},{"line":"mid","b":189.1,"p":1.29501},{"line":"mid","b":192.4,"p":1.29552},{"line":"mid","b":194.9,"p":1.29562},{"line":"mid","b":199.1,"p":1.29532},{"line":"mid","b":203.3,"p":1.29491},{"line":"mid","b":207.4,"p":1.29460},{"line":"mid","b":211.6,"p":1.29450},{"line":"mid","b":214.1,"p":1.29388},{"line":"mid","b":218.3,"p":1.29286},{"line":"mid","b":221.6,"p":1.29142},{"line":"mid","b":224.9,"p":1.28958},{"line":"mid","b":227.4,"p":1.28856},{"line":"mid","b":229.9,"p":1.28846},{"line":"mid","b":233.3,"p":1.28835},{"line":"mid","b":236.6,"p":1.28897},{"line":"mid","b":239.1,"p":1.28990},{"line":"mid","b":241.6,"p":1.29060},{"line":"mid","b":244.5,"p":1.29200},{"line":"mid","b":247.4,"p":1.29301},{"line":"mid","b":253.3,"p":1.29361},{"line":"mid","b":256.6,"p":1.29321},{"line":"mid","b":259.9,"p":1.29260},{"line":"mid","b":264.9,"p":1.29180},{"line":"mid","b":268.3,"p":1.29129},{"line":"mid","b":274.9,"p":1.29119},{"line":"mid","b":279.9,"p":1.29180},{"line":"mid","b":284.9,"p":1.29250},{"line":"mid","b":288.3,"p":1.29281},{"line":"mid","b":293.3,"p":1.29281},{"line":"mid","b":296.6,"p":1.29240},{"line":"mid","b":299.9,"p":1.29220},{"line":"mid","b":304.9,"p":1.29240},{"line":"mid","b":308.3,"p":1.29301},{"line":"mid","b":311.6,"p":1.29401},{"line":"mid","b":316.6,"p":1.29502},{"line":"mid","b":321.6,"p":1.29573},{"line":"mid","b":323.7,"p":1.29583},{"line":"mid","b":326.6,"p":1.29522},{"line":"mid","b":329.1,"p":1.29442},{"line":"mid","b":332.4,"p":1.29371},{"line":"mid","b":336.6,"p":1.29325},{"line":"mid","b":341.6,"p":1.29381},{"line":"mid","b":344.9,"p":1.29405},{"line":"mid","b":348.3,"p":1.29391},{"line":"mid","b":353.3,"p":1.29421},{"line":"mid","b":356.6,"p":1.29460},{"line":"mid","b":359.9,"p":1.29520},{"line":"mid","b":364.9,"p":1.29565},{"line":"mid","b":367.4,"p":1.29575},{"line":"mid","b":370.8,"p":1.29549},{"line":"mid","b":371.9,"p":1.29518},
{"line":"fast","b":-0.1,"p":1.31767},{"line":"fast","b":1.2,"p":1.31687},{"line":"fast","b":4.1,"p":1.31670},{"line":"fast","b":6.6,"p":1.31646},{"line":"fast","b":9.1,"p":1.31610},{"line":"fast","b":10.8,"p":1.31656},{"line":"fast","b":13.3,"p":1.31767},{"line":"fast","b":15.8,"p":1.31818},{"line":"fast","b":18.3,"p":1.31818},{"line":"fast","b":19.9,"p":1.31879},{"line":"fast","b":22,"p":1.31929},{"line":"fast","b":24.1,"p":1.31939},{"line":"fast","b":26.6,"p":1.31929},{"line":"fast","b":28.7,"p":1.31909},{"line":"fast","b":30.4,"p":1.31990},{"line":"fast","b":32.4,"p":1.32061},{"line":"fast","b":33.7,"p":1.32107},{"line":"fast","b":35.8,"p":1.32061},{"line":"fast","b":37.4,"p":1.32030},{"line":"fast","b":38.3,"p":1.31970},{"line":"fast","b":39.9,"p":1.31879},{"line":"fast","b":41.6,"p":1.31778},{"line":"fast","b":43.3,"p":1.31757},{"line":"fast","b":45.8,"p":1.31757},{"line":"fast","b":47.4,"p":1.31778},{"line":"fast","b":49.9,"p":1.31808},{"line":"fast","b":53.3,"p":1.31818},{"line":"fast","b":56.6,"p":1.31798},{"line":"fast","b":58.7,"p":1.31747},{"line":"fast","b":60.8,"p":1.31711},{"line":"fast","b":62.4,"p":1.31737},{"line":"fast","b":64.9,"p":1.31824},{"line":"fast","b":66.2,"p":1.31818},{"line":"fast","b":67.4,"p":1.31767},{"line":"fast","b":69.1,"p":1.31626},{"line":"fast","b":70.8,"p":1.31464},{"line":"fast","b":72.4,"p":1.31393},{"line":"fast","b":74.1,"p":1.31333},{"line":"fast","b":76.6,"p":1.31302},{"line":"fast","b":79.1,"p":1.31252},{"line":"fast","b":81.6,"p":1.31231},{"line":"fast","b":83.3,"p":1.31262},{"line":"fast","b":85.8,"p":1.31343},{"line":"fast","b":89.1,"p":1.31383},{"line":"fast","b":91.6,"p":1.31347},{"line":"fast","b":94.1,"p":1.31322},{"line":"fast","b":96.6,"p":1.31292},{"line":"fast","b":99.1,"p":1.31282},{"line":"fast","b":101.6,"p":1.31282},{"line":"fast","b":104.1,"p":1.31221},{"line":"fast","b":105.8,"p":1.31191},{"line":"fast","b":108.3,"p":1.31221},{"line":"fast","b":110.8,"p":1.31181},{"line":"fast","b":113.3,"p":1.31161},{"line":"fast","b":115.8,"p":1.31211},{"line":"fast","b":118.3,"p":1.31252},{"line":"fast","b":120.8,"p":1.31282},{"line":"fast","b":124.1,"p":1.31303},{"line":"fast","b":127,"p":1.31290},{"line":"fast","b":129.9,"p":1.31283},{"line":"fast","b":133.3,"p":1.31303},{"line":"fast","b":135.4,"p":1.31416},{"line":"fast","b":137.9,"p":1.31467},{"line":"fast","b":139.9,"p":1.31406},{"line":"fast","b":142.4,"p":1.31395},{"line":"fast","b":144.5,"p":1.31436},{"line":"fast","b":146.6,"p":1.31471},{"line":"fast","b":149.1,"p":1.31467},{"line":"fast","b":151.6,"p":1.31457},{"line":"fast","b":154.1,"p":1.31461},{"line":"fast","b":156.6,"p":1.31436},{"line":"fast","b":158.7,"p":1.31436},{"line":"fast","b":159.9,"p":1.31272},{"line":"fast","b":161.2,"p":1.30945},{"line":"fast","b":162.4,"p":1.30535},{"line":"fast","b":163.7,"p":1.29982},{"line":"fast","b":164.9,"p":1.29716},{"line":"fast","b":166.2,"p":1.29532},{"line":"fast","b":167.9,"p":1.29429},{"line":"fast","b":169.9,"p":1.29398},{"line":"fast","b":172.4,"p":1.29358},{"line":"fast","b":174.9,"p":1.29337},{"line":"fast","b":177.4,"p":1.29327},{"line":"fast","b":179.9,"p":1.29358},{"line":"fast","b":182.4,"p":1.29450},{"line":"fast","b":184.9,"p":1.29542},{"line":"fast","b":187.4,"p":1.29603},{"line":"fast","b":189.1,"p":1.29603},{"line":"fast","b":190.8,"p":1.29552},{"line":"fast","b":193.3,"p":1.29532},{"line":"fast","b":196.6,"p":1.29521},{"line":"fast","b":199.1,"p":1.29532},{"line":"fast","b":201.6,"p":1.29450},{"line":"fast","b":204.1,"p":1.29409},{"line":"fast","b":206.6,"p":1.29439},{"line":"fast","b":209.1,"p":1.29460},{"line":"fast","b":211.6,"p":1.29470},{"line":"fast","b":213.3,"p":1.29388},{"line":"fast","b":214.9,"p":1.29183},{"line":"fast","b":216.6,"p":1.29040},{"line":"fast","b":218.3,"p":1.28989},{"line":"fast","b":220.8,"p":1.28958},{"line":"fast","b":223.3,"p":1.28876},{"line":"fast","b":225.8,"p":1.28825},{"line":"fast","b":228.3,"p":1.28794},{"line":"fast","b":229.9,"p":1.28815},{"line":"fast","b":232.4,"p":1.28835},{"line":"fast","b":234.9,"p":1.28866},{"line":"fast","b":237.4,"p":1.29040},{"line":"fast","b":239.9,"p":1.29163},{"line":"fast","b":241.6,"p":1.29290},{"line":"fast","b":244.1,"p":1.29391},{"line":"fast","b":246.2,"p":1.29391},{"line":"fast","b":248.3,"p":1.29301},{"line":"fast","b":250.8,"p":1.29301},{"line":"fast","b":253.3,"p":1.29361},{"line":"fast","b":255.4,"p":1.29411},{"line":"fast","b":257.4,"p":1.29321},{"line":"fast","b":259.9,"p":1.29200},{"line":"fast","b":261.6,"p":1.29099},{"line":"fast","b":264.1,"p":1.29069},{"line":"fast","b":266.6,"p":1.29160},{"line":"fast","b":269.1,"p":1.29180},{"line":"fast","b":271.6,"p":1.29139},{"line":"fast","b":274.1,"p":1.29099},{"line":"fast","b":275.8,"p":1.29139},{"line":"fast","b":278.3,"p":1.29260},{"line":"fast","b":280.8,"p":1.29301},{"line":"fast","b":283.3,"p":1.29361},{"line":"fast","b":285.8,"p":1.29361},{"line":"fast","b":288.3,"p":1.29260},{"line":"fast","b":291.6,"p":1.29220},{"line":"fast","b":294.9,"p":1.29200},{"line":"fast","b":298.3,"p":1.29204},{"line":"fast","b":301.6,"p":1.29240},{"line":"fast","b":304.9,"p":1.29281},{"line":"fast","b":307.4,"p":1.29361},{"line":"fast","b":309.9,"p":1.29472},{"line":"fast","b":312.4,"p":1.29532},{"line":"fast","b":314.9,"p":1.29583},{"line":"fast","b":317.4,"p":1.29613},{"line":"fast","b":319.9,"p":1.29613},{"line":"fast","b":322.4,"p":1.29613},{"line":"fast","b":324.9,"p":1.29542},{"line":"fast","b":326.6,"p":1.29361},{"line":"fast","b":328.3,"p":1.29230},{"line":"fast","b":329.9,"p":1.29301},{"line":"fast","b":331.6,"p":1.29401},{"line":"fast","b":334.1,"p":1.29421},{"line":"fast","b":336.6,"p":1.29381},{"line":"fast","b":339.9,"p":1.29381},{"line":"fast","b":342.4,"p":1.29442},{"line":"fast","b":344.9,"p":1.29442},{"line":"fast","b":347.4,"p":1.29381},{"line":"fast","b":349.9,"p":1.29421},{"line":"fast","b":353.3,"p":1.29452},{"line":"fast","b":355.8,"p":1.29462},{"line":"fast","b":357.4,"p":1.29563},{"line":"fast","b":359.9,"p":1.29640},{"line":"fast","b":362.4,"p":1.29596},{"line":"fast","b":365.8,"p":1.29549},{"line":"fast","b":368.7,"p":1.29528},{"line":"fast","b":371.6,"p":1.29488}
 ],
 "channel": [
{"line":"lower","b":229.1,"p":1.28590},{"line":"lower","b":467.4,"p":1.29838},
{"line":"upper","b":239.1,"p":1.29546},{"line":"upper","b":467.4,"p":1.30337}
 ],
 "zigzag": [
{"part":"main","s":1,"b":229.1,"p":1.28594},{"part":"main","s":2,"b":253.9,"p":1.29583},{"part":"main","s":3,"b":305.8,"p":1.29089},{"part":"main","s":4,"b":316.4,"p":1.29804},{"part":"main","s":5,"b":347.0,"p":1.29220},{"part":"main","s":6,"b":358.5,"p":1.29930},{"part":"main","s":7,"b":375.2,"p":1.29397},{"part":"main","s":8,"b":389.8,"p":1.30060},{"part":"main","s":9,"b":422.9,"p":1.28569},
{"part":"head","s":1,"b":416.4,"p":1.28674},{"part":"head","s":2,"b":422.9,"p":1.28569},{"part":"head","s":3,"b":427.2,"p":1.28731}
 ],
 "levels": [
{"price":1.31256,"kind":"solid"},{"price":1.30040,"kind":"dash"},{"price":1.29762,"kind":"dash"},{"price":1.28569,"kind":"dash"},{"price":1.29555,"kind":"bid"}
 ],
 "rsilevels": [{"v":70},{"v":30}],
 "rsi": [
{"b":0,"v":37.2},{"b":4.1,"v":37.6},{"b":4.9,"v":35.5},{"b":7.4,"v":37.8},{"b":9.1,"v":37.2},{"b":9.9,"v":38.5},{"b":11.2,"v":46.3},{"b":13.3,"v":45.9},{"b":15.8,"v":45.9},{"b":17,"v":47.6},{"b":18.1,"v":43.1},{"b":18.9,"v":53.5},{"b":19.9,"v":49.6},{"b":22,"v":52.2},{"b":24.9,"v":50.7},{"b":27.8,"v":49.6},{"b":29.1,"v":52.2},{"b":30,"v":56.8},{"b":32.4,"v":56.4},{"b":33.7,"v":54.2},{"b":35.8,"v":52.0},{"b":37,"v":53.8},{"b":38.7,"v":44.4},{"b":39.9,"v":46.3},{"b":41.8,"v":43.1},{"b":44.1,"v":45.0},{"b":46.6,"v":47.2},{"b":49.9,"v":47.0},{"b":52.4,"v":47.6},{"b":56.6,"v":45.7},{"b":58.9,"v":41.1},{"b":61.2,"v":47.0},{"b":63.7,"v":51.6},{"b":65.8,"v":47.6},{"b":67,"v":44.4},{"b":68.3,"v":39.1},{"b":71.6,"v":36.5},{"b":74.1,"v":34.6},{"b":74.9,"v":36.8},{"b":78.3,"v":35.2},{"b":79.9,"v":33.5},{"b":81.2,"v":36.8},{"b":84.1,"v":39.8},{"b":85,"v":43.3},{"b":87.4,"v":41.8},{"b":88.7,"v":43.7},{"b":89.9,"v":42.0},{"b":91.6,"v":40.7},{"b":93.3,"v":41.5},{"b":96.6,"v":41.1},{"b":99.1,"v":40.7},
{"b":100,"v":40.9},{"b":101,"v":41.5},{"b":102,"v":41.8},{"b":103,"v":41.7},{"b":104,"v":38.1},{"b":105,"v":39.5},{"b":106,"v":38.2},{"b":107,"v":39.5},{"b":108,"v":41.2},{"b":109,"v":42.6},{"b":110,"v":42.2},{"b":111,"v":39.1},{"b":112,"v":38.0},{"b":113,"v":41.4},{"b":114,"v":40.2},{"b":115,"v":43.1},{"b":116,"v":44.3},{"b":117,"v":45.3},{"b":118,"v":44.9},{"b":119,"v":45.8},{"b":120,"v":47.3},{"b":121,"v":47.7},{"b":122,"v":47.1},{"b":123,"v":47.6},{"b":124,"v":48.1},{"b":125,"v":47.7},{"b":126,"v":46.7},{"b":127,"v":45.2},{"b":128,"v":46.4},{"b":129,"v":47.0},{"b":130,"v":48.6},{"b":131,"v":46.1},{"b":132,"v":48.9},{"b":133,"v":53.0},{"b":134,"v":56.2},{"b":135,"v":56.6},{"b":136,"v":58.3},{"b":137,"v":56.5},{"b":138,"v":54.9},{"b":139,"v":50.2},{"b":140,"v":50.7},{"b":141,"v":51.6},{"b":142,"v":51.1},{"b":143,"v":52.6},{"b":144,"v":54.5},{"b":145,"v":55.5},{"b":146,"v":55.9},{"b":147,"v":56.4},{"b":148,"v":55.1},{"b":149,"v":54.5},{"b":150,"v":52.9},{"b":151,"v":54.3},{"b":152,"v":54.8},{"b":153,"v":53.8},{"b":154,"v":52.9},{"b":155,"v":49.7},{"b":156,"v":51.5},{"b":157,"v":52.1},{"b":158,"v":52.3},{"b":159,"v":39.1},
{"b":160,"v":22.1},{"b":161,"v":19.2},{"b":162,"v":18.1},{"b":163,"v":14.6},{"b":164,"v":12.5},{"b":165,"v":19.1},{"b":166,"v":20.5},{"b":167,"v":19.3},{"b":168,"v":21.7},{"b":169,"v":22.8},{"b":170,"v":21.8},{"b":171,"v":21.7},{"b":172,"v":21.3},{"b":173,"v":22.8},{"b":174,"v":23.5},{"b":175,"v":23.2},{"b":176,"v":23.5},{"b":177,"v":23.3},{"b":178,"v":24.3},{"b":179,"v":26.7},{"b":180,"v":26.1},{"b":181,"v":30.6},{"b":182,"v":31.6},{"b":183,"v":31.3},{"b":184,"v":31.9},{"b":185,"v":37.5},{"b":186,"v":34.7},{"b":187,"v":38.9},{"b":188,"v":36.6},{"b":189,"v":35.8},{"b":190,"v":36.7},{"b":191,"v":36.5},{"b":192,"v":36.3},{"b":193,"v":36.9},{"b":194,"v":36.6},{"b":195,"v":36.9},{"b":196,"v":36.7},{"b":197,"v":37.4},{"b":198,"v":37.7},{"b":199,"v":37.3},
{"b":200,"v":34.7},{"b":201,"v":35.4},{"b":202,"v":34.3},{"b":203,"v":35.3},{"b":204,"v":36.1},{"b":205,"v":37.2},{"b":206,"v":38.0},{"b":207,"v":38.4},{"b":208,"v":38.8},{"b":209,"v":40.0},{"b":210,"v":37.2},{"b":211,"v":40.3},{"b":212,"v":39.3},{"b":213,"v":36.9},{"b":214,"v":31.6},{"b":215,"v":31.9},{"b":216,"v":30.4},{"b":217,"v":29.5},{"b":218,"v":31.9},{"b":219,"v":31.3},{"b":220,"v":30.3},{"b":221,"v":32.3},{"b":222,"v":31.7},{"b":223,"v":29.9},{"b":224,"v":28.5},{"b":225,"v":29.3},{"b":226,"v":34.1},{"b":227,"v":34.5},{"b":228,"v":32.0},{"b":229,"v":31.6},{"b":230,"v":36.8},{"b":231,"v":39.2},{"b":232,"v":37.2},{"b":233,"v":38.5},{"b":234,"v":37.2},{"b":235,"v":46.3},{"b":236,"v":45.0},{"b":237,"v":46.8},{"b":238,"v":47.1},{"b":239,"v":47.9},
{"b":240,"v":55.1},{"b":241,"v":52.1},{"b":242,"v":52.4},{"b":243,"v":52.6},{"b":244,"v":52.8},{"b":245,"v":53.3},{"b":246,"v":52.5},{"b":247,"v":49.6},{"b":248,"v":50.7},{"b":249,"v":48.1},{"b":250,"v":49.7},{"b":251,"v":51.2},{"b":252,"v":50.2},{"b":253,"v":52.4},{"b":254,"v":53.9},{"b":255,"v":55.1},{"b":256,"v":50.0},{"b":257,"v":44.2},{"b":258,"v":49.1},{"b":259,"v":45.9},{"b":260,"v":46.4},{"b":261,"v":44.4},{"b":262,"v":45.6},{"b":263,"v":45.0},{"b":264,"v":45.8},{"b":265,"v":47.9},{"b":266,"v":48.4},{"b":267,"v":49.6},{"b":268,"v":48.2},{"b":269,"v":49.7},{"b":270,"v":46.7},{"b":271,"v":47.7},{"b":272,"v":47.2},{"b":273,"v":45.7},{"b":274,"v":47.0},{"b":275,"v":46.1},{"b":276,"v":53.0},{"b":277,"v":51.4},{"b":278,"v":50.0},{"b":279,"v":48.6},
{"b":280,"v":50.9},{"b":281,"v":55.7},{"b":282,"v":51.8},{"b":283,"v":53.4},{"b":284,"v":52.3},{"b":285,"v":50.8},{"b":286,"v":52.8},{"b":287,"v":49.6},{"b":288,"v":49.2},{"b":289,"v":48.7},{"b":290,"v":49.2},{"b":291,"v":49.4},{"b":292,"v":49.1},{"b":293,"v":49.4},{"b":294,"v":49.2},{"b":295,"v":48.6},{"b":296,"v":48.5},{"b":297,"v":49.5},{"b":298,"v":50.0},{"b":299,"v":50.8},{"b":300,"v":51.2},{"b":301,"v":50.2},{"b":302,"v":51.0},{"b":303,"v":51.3},{"b":304,"v":52.5},{"b":305,"v":55.0},{"b":306,"v":52.3},{"b":307,"v":55.6},{"b":308,"v":58.0},{"b":309,"v":62.2},{"b":310,"v":56.0},{"b":311,"v":54.9},{"b":312,"v":56.5},{"b":313,"v":57.9},{"b":314,"v":59.6},{"b":315,"v":56.3},{"b":316,"v":56.8},{"b":317,"v":55.3},{"b":318,"v":56.7},{"b":319,"v":56.9},
{"b":320,"v":56.7},{"b":321,"v":56.2},{"b":322,"v":54.9},{"b":323,"v":53.6},{"b":324,"v":50.3},{"b":325,"v":44.8},{"b":326,"v":45.7},{"b":327,"v":45.3},{"b":328,"v":45.6},{"b":329,"v":44.2},{"b":330,"v":52.2},{"b":331,"v":50.7},{"b":332,"v":50.0},{"b":333,"v":52.7},{"b":334,"v":48.4},{"b":335,"v":50.1},{"b":336,"v":49.0},{"b":337,"v":50.5},{"b":338,"v":49.9},{"b":339,"v":50.3},{"b":340,"v":49.9},{"b":341,"v":50.4},{"b":342,"v":53.7},{"b":343,"v":52.8},{"b":344,"v":50.5},{"b":345,"v":49.5},{"b":346,"v":49.9},{"b":347,"v":47.2},{"b":348,"v":49.5},{"b":349,"v":52.0},{"b":350,"v":50.8},{"b":351,"v":51.6},{"b":352,"v":51.0},{"b":353,"v":51.6},{"b":354,"v":50.5},{"b":355,"v":51.3},{"b":356,"v":59.1},{"b":357,"v":56.3},{"b":358,"v":57.2},{"b":359,"v":54.8},
{"b":360,"v":55.3},{"b":361,"v":53.8},{"b":362,"v":53.4},{"b":363,"v":50.9},{"b":364,"v":53.3},{"b":365,"v":52.7},{"b":366,"v":51.8},{"b":367,"v":51.5},{"b":368,"v":51.2},{"b":369,"v":50.9},{"b":370,"v":50.5},{"b":371,"v":50.6},{"b":372,"v":52.87}
 ]
},
"vconcat": [
 {
  "width": 1870,
  "height": 644,
  "layer": [
   {
    "data": {"name": "levels"},
    "mark": {"type": "rule", "clip": true, "strokeWidth": 1},
    "encoding": {
     "y": {"field": "price", "type": "quantitative", "scale": {"domain": [1.28478, 1.32386], "nice": false, "zero": false},
       "axis": {"orient": "right", "title": null, "values": [1.28505,1.28705,1.28905,1.29105,1.29305,1.29505,1.29705,1.29905,1.30105,1.30305,1.30505,1.30705,1.30905,1.31105,1.31305,1.31505,1.31705,1.31905,1.32105,1.32310], "labels": false, "tickSize": 3, "domainColor": "#FFFFFF", "tickColor": "#FFFFFF", "grid": false}},
     "color": {"field": "kind", "type": "nominal", "scale": {"domain": ["solid","dash","bid"], "range": ["#FF0000","#FF0000","#C0C0C0"]}, "legend": null},
     "strokeDash": {"field": "kind", "type": "nominal", "scale": {"domain": ["solid","dash","bid"], "range": [[1,0],[4,3],[1,0]]}, "legend": null}
    }
   },
   {
    "data": {"name": "candles"},
    "mark": {"type": "rule", "clip": true, "color": "#00FF00", "strokeWidth": 1},
    "encoding": {
     "x": {"field": "b", "type": "quantitative", "scale": {"domain": [-0.125, 467.375], "nice": false, "zero": false}, "axis": null},
     "y": {"field": "l", "type": "quantitative", "scale": {"domain": [1.28478, 1.32386], "nice": false, "zero": false}},
     "y2": {"field": "h"}
    }
   },
   {
    "data": {"name": "candles"},
    "mark": {"type": "bar", "clip": true, "width": 2, "stroke": "#00FF00", "strokeWidth": 1},
    "encoding": {
     "x": {"field": "b", "type": "quantitative", "scale": {"domain": [-0.125, 467.375], "nice": false, "zero": false}, "axis": null},
     "y": {"field": "o", "type": "quantitative", "scale": {"domain": [1.28478, 1.32386], "nice": false, "zero": false}},
     "y2": {"field": "c"},
     "fill": {"condition": {"test": "datum.c > datum.o", "value": "#000000"}, "value": "#00FF00"}
    }
   },
   {
    "data": {"name": "ma"},
    "transform": [{"filter": "datum.line == 'slow'"}],
    "mark": {"type": "line", "clip": true, "color": "#0000FF", "strokeWidth": 1},
    "encoding": {
     "x": {"field": "b", "type": "quantitative", "scale": {"domain": [-0.125, 467.375], "nice": false, "zero": false}, "axis": null},
     "y": {"field": "p", "type": "quantitative", "scale": {"domain": [1.28478, 1.32386], "nice": false, "zero": false}}
    }
   },
   {
    "data": {"name": "ma"},
    "transform": [{"filter": "datum.line == 'mid'"}],
    "mark": {"type": "line", "clip": true, "color": "#FF0000", "strokeWidth": 1},
    "encoding": {
     "x": {"field": "b", "type": "quantitative", "scale": {"domain": [-0.125, 467.375], "nice": false, "zero": false}, "axis": null},
     "y": {"field": "p", "type": "quantitative", "scale": {"domain": [1.28478, 1.32386], "nice": false, "zero": false}}
    }
   },
   {
    "data": {"name": "ma"},
    "transform": [{"filter": "datum.line == 'fast'"}],
    "mark": {"type": "line", "clip": true, "color": "#FFFF00", "strokeWidth": 1},
    "encoding": {
     "x": {"field": "b", "type": "quantitative", "scale": {"domain": [-0.125, 467.375], "nice": false, "zero": false}, "axis": null},
     "y": {"field": "p", "type": "quantitative", "scale": {"domain": [1.28478, 1.32386], "nice": false, "zero": false}}
    }
   },
   {
    "data": {"name": "channel"},
    "mark": {"type": "line", "clip": true, "color": "#0000FF", "strokeWidth": 1},
    "encoding": {
     "x": {"field": "b", "type": "quantitative", "scale": {"domain": [-0.125, 467.375], "nice": false, "zero": false}, "axis": null},
     "y": {"field": "p", "type": "quantitative", "scale": {"domain": [1.28478, 1.32386], "nice": false, "zero": false}},
     "detail": {"field": "line", "type": "nominal"}
    }
   },
   {
    "data": {"name": "zigzag"},
    "mark": {"type": "line", "clip": true, "color": "#FFFF00", "strokeWidth": 3, "strokeJoin": "miter"},
    "encoding": {
     "x": {"field": "b", "type": "quantitative", "scale": {"domain": [-0.125, 467.375], "nice": false, "zero": false}, "axis": null},
     "y": {"field": "p", "type": "quantitative", "scale": {"domain": [1.28478, 1.32386], "nice": false, "zero": false}},
     "detail": {"field": "part", "type": "nominal"},
     "order": {"field": "s", "type": "quantitative"}
    }
   },
   {
    "data": {"name": "yticks"},
    "mark": {"type": "text", "align": "left", "baseline": "middle", "fontSize": 9, "font": "Liberation Sans", "color": "#FFFFFF", "clip": false},
    "encoding": {
     "x": {"datum": 468.85, "type": "quantitative", "scale": {"domain": [-0.125, 467.375], "nice": false, "zero": false}, "axis": null},
     "y": {"field": "v", "type": "quantitative", "scale": {"domain": [1.28478, 1.32386], "nice": false, "zero": false}},
     "text": {"field": "v", "type": "quantitative", "format": ".5f"}
    }
   },
   {
    "data": {"name": "levels"},
    "mark": {"type": "bar", "height": 10, "clip": false},
    "encoding": {
     "x": {"datum": 467.875, "type": "quantitative", "scale": {"domain": [-0.125, 467.375], "nice": false, "zero": false}, "axis": null},
     "x2": {"datum": 478.2},
     "y": {"field": "price", "type": "quantitative", "scale": {"domain": [1.28478, 1.32386], "nice": false, "zero": false}},
     "fill": {"field": "kind", "type": "nominal", "scale": {"domain": ["solid","dash","bid"], "range": ["#FF0000","#FF0000","#FFFFFF"]}, "legend": null}
    }
   },
   {
    "data": {"name": "levels"},
    "mark": {"type": "text", "align": "left", "baseline": "middle", "fontSize": 9, "font": "Liberation Sans", "color": "#000000", "clip": false},
    "encoding": {
     "x": {"datum": 468.7, "type": "quantitative", "scale": {"domain": [-0.125, 467.375], "nice": false, "zero": false}, "axis": null},
     "y": {"field": "price", "type": "quantitative", "scale": {"domain": [1.28478, 1.32386], "nice": false, "zero": false}},
     "text": {"field": "price", "type": "quantitative", "format": ".5f"}
    }
   },
   {
    "data": {"name": "one"},
    "mark": {"type": "text", "align": "center", "baseline": "middle", "fontSize": 8, "color": "#FFFFFF", "font": "DejaVu Sans"},
    "encoding": {
     "x": {"datum": 1.6, "type": "quantitative", "scale": {"domain": [-0.125, 467.375], "nice": false, "zero": false}, "axis": null},
     "y": {"datum": 1.32338, "type": "quantitative", "scale": {"domain": [1.28478, 1.32386], "nice": false, "zero": false}},
     "text": {"value": "▼"}
    }
   },
   {
    "data": {"name": "one"},
    "mark": {"type": "text", "align": "left", "baseline": "middle", "fontSize": 9, "color": "#FFFFFF", "font": "Liberation Sans"},
    "encoding": {
     "x": {"datum": 3.7, "type": "quantitative", "scale": {"domain": [-0.125, 467.375], "nice": false, "zero": false}, "axis": null},
     "y": {"datum": 1.32338, "type": "quantitative", "scale": {"domain": [1.28478, 1.32386], "nice": false, "zero": false}},
     "text": {"value": "EURUSD,H1  1.29483 1.29560 1.29426 1.29555"}
    }
   }
  ]
 },
 {
  "width": 1870,
  "height": 257,
  "layer": [
   {
    "data": {"name": "rsilevels"},
    "mark": {"type": "rule", "clip": true, "color": "#C0C0C0", "strokeDash": [3,3], "strokeWidth": 1},
    "encoding": {
     "y": {"field": "v", "type": "quantitative", "scale": {"domain": [-0.55, 100.75], "nice": false, "zero": false},
       "axis": {"orient": "right", "title": null, "values": [0,30,70,100], "tickSize": 3, "labelPadding": 3, "labelAlign": "left", "labelBaseline": "middle", "labelFlush": 3, "labelColor": "#FFFFFF", "labelFontSize": 9, "labelFont": "Liberation Sans", "domainColor": "#FFFFFF", "tickColor": "#FFFFFF", "grid": false, "labelOverlap": false, "labelBound": false}}
    }
   },
   {
    "data": {"name": "rsi"},
    "mark": {"type": "line", "clip": true, "color": "#1E90FF", "strokeWidth": 1},
    "encoding": {
     "x": {"field": "b", "type": "quantitative", "scale": {"domain": [-0.125, 467.375], "nice": false, "zero": false},
       "axis": {"orient": "bottom", "title": null, "values": [0,16,32,48,64,80,96,112,128,144,160,176,192,208,224,240,256,272,288,304,320,336,352,368], "labelExpr": "['26 Aug 2014','27 Aug 14:00','28 Aug 06:00','28 Aug 22:00','29 Aug 14:00','1 Sep 06:00','1 Sep 22:00','2 Sep 14:00','3 Sep 06:00','3 Sep 22:00','4 Sep 14:00','5 Sep 06:00','5 Sep 22:00','8 Sep 14:00','9 Sep 06:00','9 Sep 22:00','10 Sep 14:00','11 Sep 06:00','11 Sep 22:00','12 Sep 14:00','15 Sep 06:00','15 Sep 22:00','16 Sep 14:00','17 Sep 06:00'][round(datum.value / 16)]", "tickSize": 4, "labelPadding": 1, "labelAlign": "left", "labelBaseline": "top", "labelOffset": 2, "labelColor": "#FFFFFF", "labelFontSize": 9, "labelFont": "Liberation Sans", "domainColor": "#FFFFFF", "tickColor": "#FFFFFF", "grid": false, "labelOverlap": false, "labelBound": false, "labelFlush": false}},
     "y": {"field": "v", "type": "quantitative", "scale": {"domain": [-0.55, 100.75], "nice": false, "zero": false}}
    }
   },
   {
    "data": {"name": "one"},
    "mark": {"type": "text", "align": "left", "baseline": "middle", "fontSize": 9, "color": "#FFFFFF", "font": "Liberation Sans"},
    "encoding": {
     "x": {"datum": 0.9, "type": "quantitative", "scale": {"domain": [-0.125, 467.375], "nice": false, "zero": false}},
     "y": {"datum": 97.6, "type": "quantitative", "scale": {"domain": [-0.55, 100.75], "nice": false, "zero": false}},
     "text": {"value": "RSI(28) 52.8651"}
    }
   },
   {
    "data": {"name": "one"},
    "mark": {"type": "text", "align": "left", "baseline": "middle", "fontSize": 9, "color": "#FFFFFF", "font": "Liberation Sans"},
    "encoding": {
     "x": {"datum": 0.9, "type": "quantitative", "scale": {"domain": [-0.125, 467.375], "nice": false, "zero": false}},
     "y": {"datum": 1.95, "type": "quantitative", "scale": {"domain": [-0.55, 100.75], "nice": false, "zero": false}},
     "text": {"value": "IronFX MetaTrader 4, ? 2001-2014, MetaQuotes Software Corp."}
    }
   }
  ]
 }
]
}
